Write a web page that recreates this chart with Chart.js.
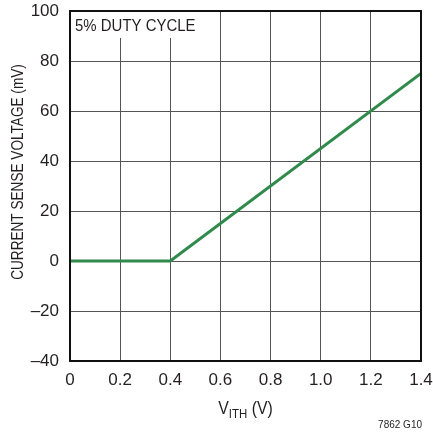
<!DOCTYPE html>
<html>
<head>
<meta charset="utf-8">
<script src="https://cdn.jsdelivr.net/npm/chart.js@4"></script>
<style>
  html, body { margin: 0; padding: 0; background: #fff; }
  #wrap { width: 433px; height: 433px; }
</style>
</head>
<body>
<div id="wrap"><canvas id="Chart" width="433" height="433"></canvas></div>
<script>
// curve (V_ITH in volts, sense voltage in mV)
var vith = [0, 0.4, 1.4];
var senseMv = [0, 0, 75];

var xTicks = [0, 0.2, 0.4, 0.6, 0.8, 1.0, 1.2, 1.4];
var yTicks = [-40, -20, 0, 20, 40, 60, 80, 100];

var note = '5% DUTY CYCLE';
var yTitle = 'CURRENT SENSE VOLTAGE (mV)';
var partNo = '7862 G10';

var FONT = '"Liberation Sans", Arial, sans-serif';
var INK = '#231f20';

var points = [];
for (var i = 0; i < vith.length; i++) {
  points.push({ x: vith[i], y: senseMv[i] });
}

// narrow text: squeeze along the writing direction
function narrowText(c, txt, x, y, sx) {
  c.save();
  c.translate(x, y);
  c.scale(sx, 1);
  c.fillText(txt, 0, 0);
  c.restore();
}

// extra text + frame the library does not draw by itself
var extras = {
  id: 'extras',
  afterDraw: function(chart) {
    var c = chart.ctx, a = chart.chartArea;
    c.save();
    // note box, covers the grid
    c.fillStyle = '#fff';
    c.fillRect(a.left + 1, a.top + 1, 138, 26);
    c.fillStyle = INK;
    c.font = '17px ' + FONT;
    c.textBaseline = 'alphabetic';
    c.textAlign = 'left';
    narrowText(c, note, a.left + 5, a.top + 20, 0.88);

    // frame
    c.strokeStyle = '#111';
    c.lineWidth = 2;
    c.strokeRect(a.left, a.top, a.right - a.left, a.bottom - a.top);

    // y title
    c.save();
    c.translate(18, 172);
    c.rotate(-Math.PI / 2);
    c.textAlign = 'center';
    c.textBaseline = 'middle';
    c.font = '17px ' + FONT;
    c.scale(0.8, 1);
    c.fillText(yTitle, 0, 0);
    c.restore();

    // x title with subscript
    var cx = (a.left + a.right) / 2, ty = 414;
    var p1 = 'V', p2 = 'ITH', p3 = ' (V)';
    var sq = 0.88;
    c.font = '18px ' + FONT;
    var w1 = c.measureText(p1).width * sq, w3 = c.measureText(p3).width * sq;
    c.font = '13px ' + FONT;
    var w2 = c.measureText(p2).width * sq;
    var x0 = cx - (w1 + w2 + w3) / 2;
    c.textAlign = 'left';
    c.textBaseline = 'alphabetic';
    c.font = '18px ' + FONT;
    narrowText(c, p1, x0, ty, sq);
    c.font = '13px ' + FONT;
    narrowText(c, p2, x0 + w1, ty + 4, sq);
    c.font = '18px ' + FONT;
    narrowText(c, p3, x0 + w1 + w2, ty, sq);

    // part number
    c.font = '10px ' + FONT;
    c.textAlign = 'right';
    c.fillText(partNo, 422, 428);
    c.restore();
  }
};

var ctx = document.getElementById('Chart').getContext('2d');
var chart = new Chart(ctx, {
  type: 'scatter',
  data: {
    datasets: [{
      data: points,
      showLine: true,
      borderColor: '#2f8a4c',
      borderWidth: 3,
      pointRadius: 0,
      tension: 0
    }]
  },
  options: {
    responsive: false,
    animation: false,
    layout: { padding: { top: 11, right: 12, left: 0, bottom: 0 } },
    plugins: { legend: { display: false }, tooltip: { enabled: false } },
    scales: {
      x: {
        type: 'linear',
        min: 0, max: 1.4,
        afterBuildTicks: function(s) { s.ticks = xTicks.map(function(v) { return { value: v }; }); },
        afterFit: function(s) { s.height = 72; s.paddingLeft = 0; s.paddingRight = 0; },
        grid: { color: '#555', lineWidth: 1, drawTicks: false },
        border: { display: false },
        ticks: {
          padding: 9,
          color: INK,
          font: { family: FONT, size: 17 },
          maxRotation: 0,
          callback: function(v) { return v === 0 ? '0' : v.toFixed(1); }
        }
      },
      y: {
        min: -40, max: 100,
        afterBuildTicks: function(s) { s.ticks = yTicks.map(function(v) { return { value: v }; }); },
        afterFit: function(s) { s.width = 70; s.paddingTop = 0; s.paddingBottom = 0; },
        grid: { color: '#555', lineWidth: 1, drawTicks: false },
        border: { display: false },
        ticks: {
          padding: 11,
          color: INK,
          font: { family: FONT, size: 17 },
          callback: function(v) { return v < 0 ? '\u2013' + Math.abs(v) : String(v); }
        }
      }
    }
  },
  plugins: [extras]
});
</script>
</body>
</html>
